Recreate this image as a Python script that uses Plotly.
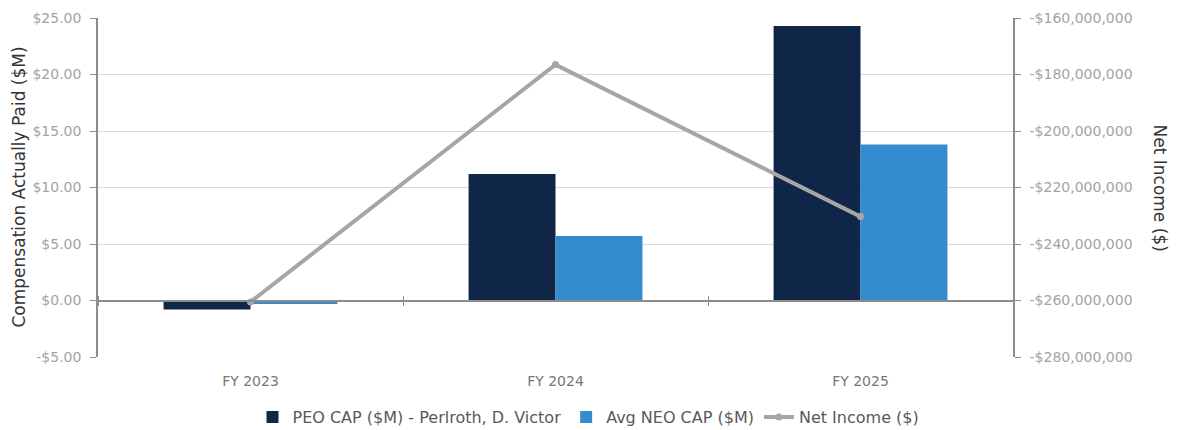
import plotly.graph_objects as go

categories = ["FY 2023", "FY 2024", "FY 2025"]
peo_cap = [-0.8, 11.2, 24.3]
neo_cap = [-0.3, 5.7, 13.8]
net_income = [-260500000, -176500000, -230300000]

left_tickvals = [-5, 0, 5, 10, 15, 20, 25]
left_ticktext = ["-$5.00", "$0.00", "$5.00", "$10.00", "$15.00", "$20.00", "$25.00"]
right_tickvals = [-280000000, -260000000, -240000000, -220000000, -200000000, -180000000, -160000000]
right_ticktext = ["-$280,000,000", "-$260,000,000", "-$240,000,000", "-$220,000,000",
                  "-$200,000,000", "-$180,000,000", "-$160,000,000"]

FONT = "DejaVu Sans"
TICKC = "#a3a3a3"
AXC = "#8c8c8c"

fig = go.Figure()
fig.add_trace(go.Bar(x=categories, y=peo_cap, name="PEO CAP ($M) - Perlroth, D. Victor",
                     marker=dict(color="#0f2648", line=dict(width=0))))
fig.add_trace(go.Bar(x=categories, y=neo_cap, name="Avg NEO CAP ($M)",
                     marker=dict(color="#348bcd", line=dict(width=0))))
fig.add_trace(go.Scatter(x=categories, y=net_income, name="Net Income ($)", yaxis="y2",
                         mode="lines+markers", line=dict(color="#a6a6a6", width=4),
                         marker=dict(size=7, color="#a6a6a6")))
# invisible traces to attach zero-line category axes
fig.add_trace(go.Scatter(x=categories, y=[None]*3, xaxis="x2", showlegend=False, hoverinfo="skip"))
fig.add_trace(go.Scatter(x=categories, y=[None]*3, xaxis="x3", showlegend=False, hoverinfo="skip"))

zero_pos = (0 - (-5)) / 30

fig.update_layout(
    width=1177, height=430,
    margin=dict(l=98, r=164, t=18, b=73, autoexpand=False),
    paper_bgcolor="white", plot_bgcolor="white",
    font=dict(family=FONT, color="#333"),
    barmode="group", bargap=0.43, bargroupgap=0,
    showlegend=True,
    legend=dict(orientation="h", xref="container", yref="container",
                x=0.5, xanchor="center", y=0.03, yanchor="middle",
                font=dict(size=16, color="#595959"), itemwidth=30, tracegroupgap=0,
                entrywidth=0, traceorder="normal"),
    xaxis=dict(type="category", showline=False, showgrid=False, ticks="",
               tickfont=dict(size=14, color="#777"), zeroline=False, automargin=False,
               ticklabelstandoff=14),
    xaxis2=dict(type="category", overlaying="x", matches="x", anchor="free", position=zero_pos,
                showline=True, linecolor=AXC, linewidth=1.5, ticks="outside", ticklen=5,
                tickcolor=AXC, tickson="boundaries", showticklabels=False, showgrid=False,
                side="bottom"),
    xaxis3=dict(type="category", overlaying="x", matches="x", anchor="free", position=zero_pos,
                showline=False, ticks="outside", ticklen=5, tickcolor=AXC,
                tickson="boundaries", showticklabels=False, showgrid=False, side="top"),
    yaxis=dict(range=[-5, 25], tickvals=left_tickvals, ticktext=left_ticktext,
               tickfont=dict(size=14, color=TICKC), showline=True, linecolor=AXC, linewidth=1.5,
               ticks="outside", ticklen=6, tickcolor=AXC, showgrid=True, gridcolor="#d9d9d9",
               gridwidth=1, zeroline=False, automargin=False, ticklabelstandoff=6),
    yaxis2=dict(range=[-280000000, -160000000], tickvals=right_tickvals, ticktext=right_ticktext,
                overlaying="y", side="right", tickfont=dict(size=14, color=TICKC),
                showline=True, linecolor=AXC, linewidth=1.5, ticks="outside", ticklen=6,
                tickcolor=AXC, showgrid=False, zeroline=False, automargin=False,
                ticklabelstandoff=6),
    annotations=[
        dict(text="Compensation Actually Paid ($M)", textangle=-90, xref="paper", yref="paper",
             x=0, xanchor="center", xshift=-80, y=0.5, yanchor="middle", showarrow=False,
             font=dict(size=17, color="#333")),
        dict(text="Net Income ($)", textangle=90, xref="paper", yref="paper",
             x=1.0, xanchor="center", xshift=147, y=0.5, yanchor="middle", showarrow=False,
             font=dict(size=17, color="#333")),
    ],
)

fig.write_html("out.html")
